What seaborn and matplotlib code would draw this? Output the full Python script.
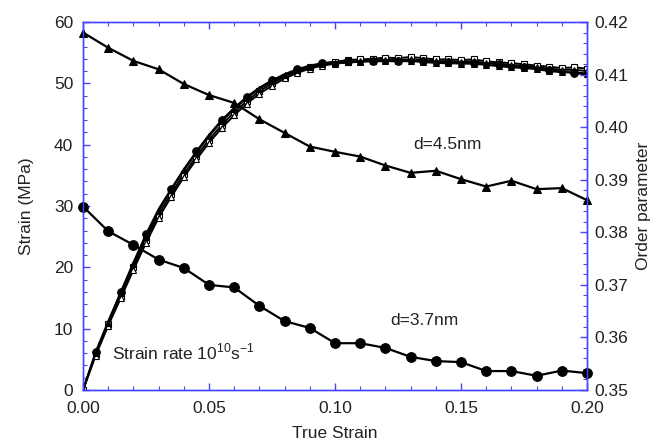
import matplotlib
matplotlib.use('Agg')
import matplotlib.pyplot as plt
from matplotlib.ticker import MultipleLocator, FormatStrFormatter
import seaborn as sns
import numpy as np


# stress-strain curves (left axis), sampled every 0.005 strain
strain = np.round(np.arange(0, 0.2001, 0.005), 3)

stress_circ = [0, 6.2, 11.2, 16.0, 20.8, 25.4, 29.5, 32.8, 36.0, 38.9, 41.6,
               44.0, 46.0, 47.8, 49.3, 50.5, 51.5, 52.3, 52.9, 53.3, 53.5,
               53.6, 53.6, 53.7, 53.8, 53.7, 53.8, 53.7, 53.5, 53.5, 53.4,
               53.3, 53.3, 53.1, 52.9, 52.7, 52.4, 52.2, 51.9, 51.7, 51.4]
stress_sq = [0, 5.8, 10.8, 15.4, 20.0, 24.5, 28.6, 32.0, 35.2, 38.1, 40.8,
             43.2, 45.3, 47.1, 48.7, 50.0, 51.1, 52.0, 52.7, 53.2, 53.5,
             53.8, 53.9, 54.0, 54.2, 54.1, 54.3, 54.1, 53.9, 53.9, 53.8,
             53.9, 53.6, 53.4, 53.3, 53.1, 52.9, 52.7, 52.5, 52.6, 52.4]
stress_tri = [0, 5.6, 10.5, 15.0, 19.6, 24.0, 28.1, 31.5, 34.7, 37.6, 40.3,
              42.7, 44.8, 46.7, 48.3, 49.6, 50.8, 51.7, 52.4, 52.9, 53.2,
              53.4, 53.6, 53.7, 53.8, 53.8, 53.9, 53.8, 53.6, 53.6, 53.5,
              53.6, 53.3, 53.1, 53.0, 52.8, 52.6, 52.4, 52.2, 52.2, 52.0]
stress_ftri = [0, 6.0, 11.0, 15.8, 20.5, 25.0, 29.2, 32.6, 35.8, 38.7, 41.4,
               43.8, 45.8, 47.6, 49.1, 50.3, 51.3, 52.1, 52.7, 53.1, 53.3,
               53.4, 53.5, 53.6, 53.6, 53.6, 53.6, 53.5, 53.3, 53.3, 53.2,
               53.2, 53.0, 52.8, 52.6, 52.5, 52.3, 52.0, 51.8, 51.8, 51.6]

# order parameter (right axis), every 0.01 strain
op_strain = np.round(np.arange(0, 0.2001, 0.01), 2)
op_45 = [0.4180, 0.4151, 0.4126, 0.4110, 0.4082, 0.4061, 0.4046, 0.4015,
         0.3989, 0.3963, 0.3953, 0.3944, 0.3927, 0.3913, 0.3917, 0.3901,
         0.3887, 0.3898, 0.3882, 0.3884, 0.3861]
op_37 = [0.3849, 0.3802, 0.3776, 0.3748, 0.3732, 0.3700, 0.3695, 0.3660,
         0.3631, 0.3618, 0.3589, 0.3589, 0.3580, 0.3563, 0.3555, 0.3553,
         0.3536, 0.3536, 0.3527, 0.3537, 0.3532]

sns.set_style('ticks')
plt.rcParams['font.family'] = ['Liberation Sans', 'DejaVu Sans']
plt.rcParams['mathtext.fontset'] = 'custom'
plt.rcParams['mathtext.rm'] = 'Liberation Sans'

SPINE = '#4646ff'
TXT = '#222222'
FS = 12.5

fig = plt.figure(figsize = (6.61, 4.48), dpi = 100)
ax = fig.add_axes([0.1256, 0.1295, 0.7625, 0.8214])
ax2 = ax.twinx()

# stress curves
sns.lineplot(x = strain, y = stress_sq, ax = ax, color = 'k', lw = 1.4,
             marker = 's', markersize = 4, markerfacecolor = 'white',
             markeredgecolor = 'k', markeredgewidth = 0.8, sort = False, estimator = None)
sns.lineplot(x = strain, y = stress_tri, ax = ax, color = 'k', lw = 1.4,
             marker = '^', markersize = 4, markerfacecolor = 'white',
             markeredgecolor = 'k', markeredgewidth = 0.8, sort = False, estimator = None)
sns.lineplot(x = strain, y = stress_ftri, ax = ax, color = 'k', lw = 1.4,
             marker = '^', markersize = 4, markerfacecolor = 'k',
             markeredgecolor = 'k', sort = False, estimator = None)
sns.lineplot(x = strain, y = stress_circ, ax = ax, color = 'k', lw = 1.4,
             marker = 'o', markersize = 5.5, markerfacecolor = 'k',
             markeredgecolor = 'k', markevery = slice(1, None, 2),
             sort = False, estimator = None)

# order parameter curves
sns.lineplot(x = op_strain, y = op_45, ax = ax2, color = 'k', lw = 1.6,
             marker = '^', markersize = 6, markeredgecolor = 'k',
             sort = False, estimator = None, clip_on = False)
sns.lineplot(x = op_strain, y = op_37, ax = ax2, color = 'k', lw = 1.6,
             marker = 'o', markersize = 7, markeredgecolor = 'k',
             sort = False, estimator = None, clip_on = False)

ax.set_xlim(0, 0.20)
ax.set_ylim(0, 60)
ax2.set_ylim(0.35, 0.42)

ax.xaxis.set_major_locator(MultipleLocator(0.05))
ax.xaxis.set_minor_locator(MultipleLocator(0.01))
ax.yaxis.set_major_locator(MultipleLocator(10))
ax.yaxis.set_minor_locator(MultipleLocator(2))
ax2.yaxis.set_major_locator(MultipleLocator(0.01))
ax2.yaxis.set_minor_locator(MultipleLocator(0.002))
ax.xaxis.set_major_formatter(FormatStrFormatter('%.2f'))
ax2.yaxis.set_major_formatter(FormatStrFormatter('%.2f'))

for a in (ax, ax2):
    for s in a.spines.values():
        s.set_visible(True)
        s.set_color(SPINE)
        s.set_linewidth(1.0)
    a.tick_params(which = 'both', direction = 'in', color = SPINE,
                  labelsize = FS, labelcolor = TXT, pad = 5)
    a.tick_params(which = 'major', length = 5, width = 1)
    a.tick_params(which = 'minor', length = 3, width = 0.8)
ax.tick_params(axis = 'x', which = 'both', top = True, pad = 8)
ax.tick_params(axis = 'y', pad = 7)

ax.set_xlabel('True Strain', fontsize = FS, color = TXT, labelpad = 7)
ax.set_ylabel('Strain (MPa)', fontsize = FS, color = TXT, labelpad = 14)
ax2.set_ylabel('Order parameter', fontsize = FS, color = TXT, labelpad = 6)

ax.text(0.1448, 40.0, 'd=4.5nm', fontsize = FS, color = TXT, ha = 'center', va = 'center')
ax.text(0.1353, 11.3, 'd=3.7nm', fontsize = FS, color = TXT, ha = 'center', va = 'center')
ax.text(0.0115, 6.2, r'Strain rate 10$^{10}$s$^{-1}$', fontsize = FS, color = TXT,
        ha = 'left', va = 'center')

fig.savefig('out.png', dpi = 100)
plt.close(fig)
